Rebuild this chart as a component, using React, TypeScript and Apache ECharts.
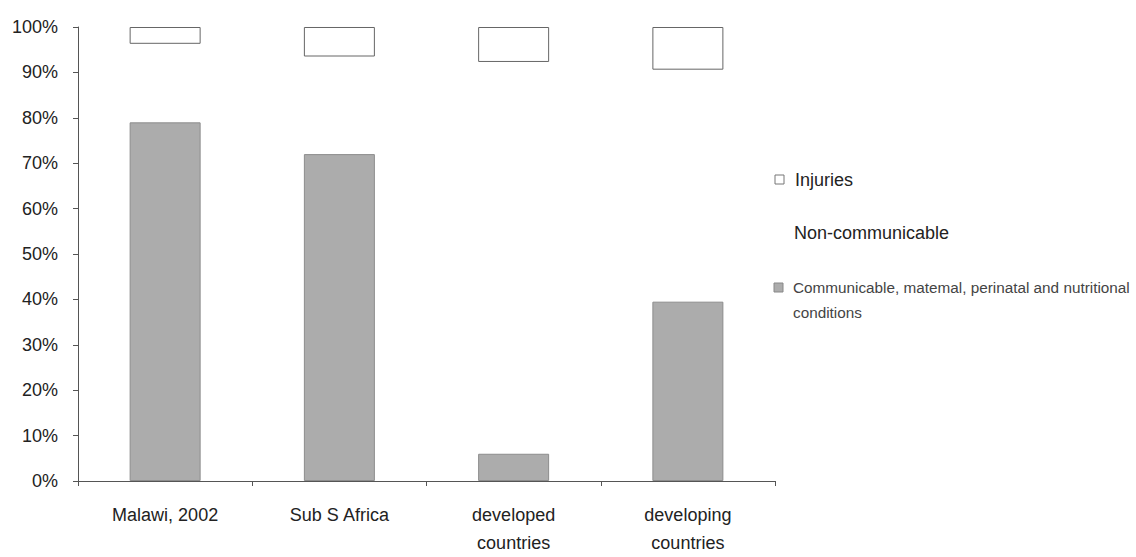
import React, { useEffect, useRef } from "react";
import * as echarts from "echarts";

const categories = ["Malawi, 2002", "Sub S Africa", "developed\ncountries", "developing\ncountries"];
const communicable = [79, 72, 6, 39.5];
const injuries = [3.7, 6.5, 7.7, 9.4];
const nonCommunicable = communicable.map((c, i) => +(100 - c - injuries[i]).toFixed(1));
const yTicks = [0, 10, 20, 30, 40, 50, 60, 70, 80, 90, 100];
const legendLabels = ["Injuries", "Non-communicable", "Communicable, matemal, perinatal and nutritional\nconditions"];

export default function App() {
  const ref = useRef<HTMLDivElement>(null);
  useEffect(() => {
    document.body.style.margin = "0";
    if (!ref.current) return;
    const chart = echarts.init(ref.current, null, { renderer: "svg" });
    const font = "'Liberation Sans', Arial, sans-serif";
    chart.setOption({
      animation: false,
      backgroundColor: "#ffffff",
      grid: { left: 78, top: 27, right: 361, bottom: 74 },
      xAxis: {
        type: "category",
        data: categories,
        axisLine: { show: true, lineStyle: { color: "#555", width: 1 } },
        axisTick: { show: true, length: 5, alignWithLabel: false, lineStyle: { color: "#555" } },
        axisLabel: { color: "#222", fontSize: 18, fontFamily: font, margin: 20, lineHeight: 28, interval: 0 },
      },
      yAxis: {
        type: "value",
        min: yTicks[0],
        max: yTicks[yTicks.length - 1],
        interval: 10,
        axisLine: { show: true, lineStyle: { color: "#555", width: 1 } },
        axisTick: { show: true, length: 5, lineStyle: { color: "#555" } },
        splitLine: { show: false },
        axisLabel: { color: "#222", fontSize: 18, fontFamily: font, margin: 20, formatter: "{value}%" },
      },
      series: [
        {
          name: "Communicable",
          type: "bar",
          stack: "total",
          data: communicable,
          barWidth: 71,
          itemStyle: { color: "#acacac", borderColor: "#8c8c8c", borderWidth: 1 },
        },
        {
          name: "Non-communicable",
          type: "bar",
          stack: "total",
          data: nonCommunicable,
          barWidth: 71,
          itemStyle: { color: "rgba(255,255,255,0)" },
        },
        {
          name: "Injuries",
          type: "bar",
          stack: "total",
          data: injuries,
          barWidth: 71,
          itemStyle: { color: "#ffffff", borderColor: "#666", borderWidth: 1 },
        },
      ],
      graphic: [
        { type: "rect", shape: { x: 775, y: 175, width: 9, height: 9 }, style: { fill: "#fff", stroke: "#777", lineWidth: 1 } },
        { type: "text", x: 795, y: 180, style: { text: legendLabels[0], fontSize: 18, fontFamily: font, fill: "#222", verticalAlign: "middle" } },
        { type: "text", x: 794, y: 233, style: { text: legendLabels[1], fontSize: 18, fontFamily: font, fill: "#222", verticalAlign: "middle" } },
        { type: "rect", shape: { x: 774, y: 283, width: 9, height: 9 }, style: { fill: "#acacac", stroke: "#888", lineWidth: 1 } },
        { type: "text", x: 793, y: 275, style: { text: legendLabels[2], fontSize: 15.3, fontFamily: font, fill: "#444", lineHeight: 25, verticalAlign: "top" } },
      ],
    });
    return () => chart.dispose();
  }, []);
  return <div ref={ref} style={{ width: 1136, height: 557 }} />;
}
